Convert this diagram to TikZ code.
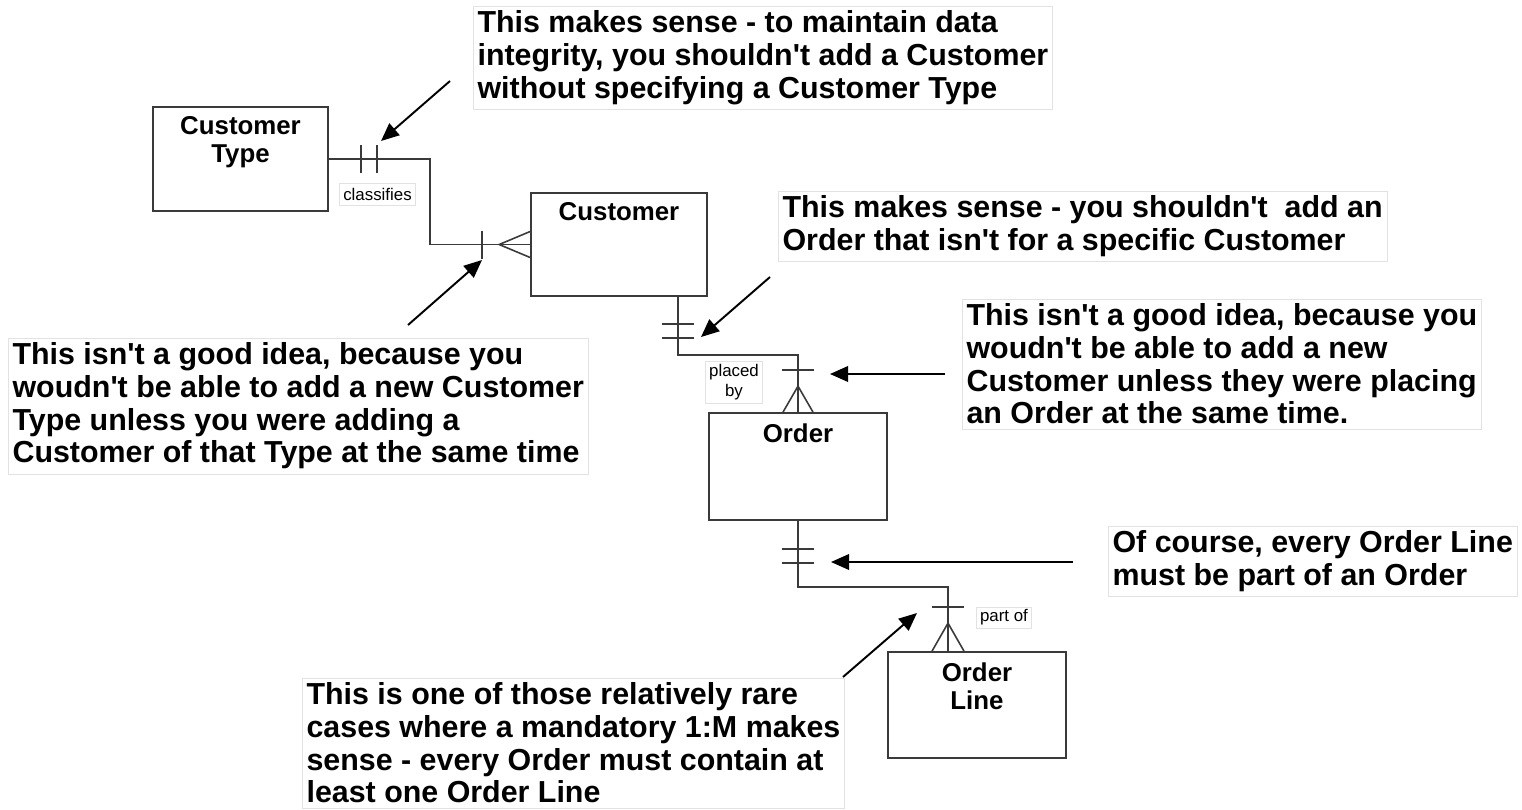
\documentclass[tikz,border=0pt]{standalone}
\usepackage{fontspec}
\setmainfont{Liberation Sans}
\usepackage{xcolor}
\definecolor{lineclr}{HTML}{3A3A3A}
\definecolor{frame}{HTML}{E2E2E2}
\usetikzlibrary{arrows.meta,positioning}
\tikzset{
  entity/.style = {rectangle, draw=lineclr, line width=1pt, fill=white,
                   inner sep=0pt},
  ename/.style  = {anchor=north, inner sep=0pt, align=center,
                   font=\bfseries\fontsize{14.7}{15.9}\selectfont},
  note/.style   = {rectangle, draw=frame, anchor=north west, align=left,
                   inner xsep=2.4pt, inner ysep=2.6pt,
                   font=\bfseries\fontsize{17.3}{18.6}\selectfont},
  tag/.style    = {rectangle, draw=frame, align=center, inner xsep=2pt,
                   inner ysep=1pt, font=\fontsize{9.6}{11}\selectfont},
  rel/.style    = {draw=lineclr, line width=0.9pt},
  arr/.style    = {-{Triangle[length=3.6mm, width=3.1mm]}, line width=1.1pt,
                   draw=black}
}

\begin{document}
\begin{tikzpicture}[x=0.02cm, y=-0.02cm]
  \useasboundingbox (0,0) rectangle (1522,809);
  % entities
  \node[entity, minimum width=3.5cm,  minimum height=2.08cm] (ctype) at (240.5,159) {};
  \node[entity, minimum width=3.52cm, minimum height=2.06cm] (cust)  at (619,244.5) {};
  \node[entity, minimum width=3.56cm, minimum height=2.14cm] (order) at (798,466.5) {};
  \node[entity, minimum width=3.56cm, minimum height=2.12cm] (oline) at (977,705) {};
  \node[ename, yshift=-0.2cm] (ctypename) at (ctype.north) {Customer\\Type};
  \node[ename, yshift=-0.2cm] (custname)  at (cust.north)  {Customer};
  \node[ename, yshift=-0.22cm] (ordername) at (order.north) {Order};
  \node[ename, yshift=-0.22cm] (olinename) at (oline.north) {Order\\Line};

  % relationships
  \draw[rel] (ctype.east) -- ++(101,0) |- (cust.west);
  \draw[rel] ([xshift=0.64cm]ctype.east) ++(0,-14) -- ++(0,28);
  \draw[rel] ([xshift=0.96cm]ctype.east) ++(0,-14) -- ++(0,28);
  \draw[rel] ([xshift=-0.96cm]cust.west) ++(0,-14) -- ++(0,28);
  \draw[rel] ([yshift=0.26cm]cust.west) -- ([xshift=-0.62cm]cust.west)
             -- ([yshift=-0.26cm]cust.west);

  \draw[rel] ([xshift=-0.6cm]cust.south east) -- ++(0,58) -| (order.north);
  \draw[rel] ([xshift=-0.6cm, yshift=-0.54cm]cust.south east) ++(-16,0) -- ++(32,0);
  \draw[rel] ([xshift=-0.6cm, yshift=-0.82cm]cust.south east) ++(-16,0) -- ++(32,0);
  \draw[rel] ([yshift=0.84cm]order.north) ++(-16,0) -- ++(32,0);
  \draw[rel] ([xshift=-0.3cm]order.north) -- ([yshift=0.52cm]order.north)
             -- ([xshift=0.3cm]order.north);

  \draw[rel] (order.south) -- ++(0,66) -| ([xshift=-0.58cm]oline.north);
  \draw[rel] ([yshift=-0.56cm]order.south) ++(-16,0) -- ++(32,0);
  \draw[rel] ([yshift=-0.84cm]order.south) ++(-16,0) -- ++(32,0);
  \draw[rel] ([xshift=-0.58cm, yshift=0.88cm]oline.north) ++(-16,0) -- ++(32,0);
  \draw[rel] ([xshift=-0.9cm]oline.north) -- ([xshift=-0.58cm, yshift=0.56cm]oline.north)
             -- ([xshift=-0.26cm]oline.north);

  \node[tag, minimum height=0.44cm] (classifies) at (377.5,194) {classifies};
  \node[tag, minimum width=1.12cm, minimum height=0.84cm] (placedby) at (734,382) {placed\\by};
  \node[tag, minimum height=0.42cm] (partof) at (1004,617.5) {part of};

  % notes
  \node[note] (n1) at (473,6) {This makes sense - to maintain data\\
    integrity, you shouldn\textquotesingle t add a Customer\\
    without specifying a Customer Type};
  \node[note] (n2) at (778,191) {This makes sense - you shouldn\textquotesingle t \ add an\\
    Order that isn\textquotesingle t for a specific Customer};
  \node[note] (n3) at (962,299) {This isn\textquotesingle t a good idea, because you\\
    woudn\textquotesingle t be able to add a new\\
    Customer unless they were placing\\
    an Order at the same time.};
  \node[note] (n4) at (8,338) {This isn\textquotesingle t a good idea, because you\\
    woudn\textquotesingle t be able to add a new Customer\\
    Type unless you were adding a\\
    Customer of that Type at the same time};
  \node[note] (n5) at (1108,526) {Of course, every Order Line\\
    must be part of an Order};
  \node[note] (n6) at (302,678) {This is one of those relatively rare\\
    cases where a mandatory 1:M makes\\
    sense - every Order must contain at\\
    least one Order Line};

  % pointers
  \coordinate (p1) at (450,81);   \coordinate (q1) at (381,141);
  \coordinate (p2) at (408,325);  \coordinate (q2) at (482,260);
  \coordinate (p3) at (770,277);  \coordinate (q3) at (701,337);
  \coordinate (p4) at (945,374);  \coordinate (q4) at (830,374);
  \coordinate (p5) at (1073,562); \coordinate (q5) at (831,562);
  \coordinate (p6) at (843,677);  \coordinate (q6) at (917,613);
  \draw[arr] (p1) -- (q1);
  \draw[arr] (p2) -- (q2);
  \draw[arr] (p3) -- (q3);
  \draw[arr] (p4) -- (q4);
  \draw[arr] (p5) -- (q5);
  \draw[arr] (p6) -- (q6);
\end{tikzpicture}
\end{document}
